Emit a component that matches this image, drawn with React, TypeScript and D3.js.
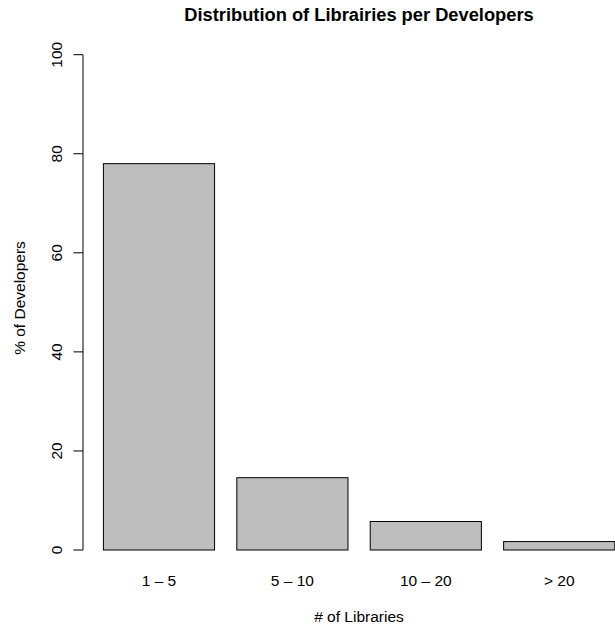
import React from "react";
import * as d3 from "d3";

const categories: string[] = ["1 – 5", "5 – 10", "10 – 20", "> 20"];
const values: number[] = [78, 14.6, 5.75, 1.7];
const yTicks: number[] = [0, 20, 40, 60, 80, 100];

const W = 615;
const H = 626;
const FONT = "'Liberation Sans', Arial, Helvetica, sans-serif";

export default function App() {
  const y = d3.scaleLinear().domain([0, 100]).range([550, 54.7]);
  const x = d3
    .scaleBand<string>()
    .domain(categories)
    .range([103.4, 614.8])
    .paddingInner(0.2 / 1.2)
    .paddingOuter(0);
  const axisX = 83;
  const plotCenter = 359;
  const fs = 15.5;

  return (
    <svg
      width={W}
      height={H}
      style={{ position: "absolute", left: 0, top: 0, background: "#fff" }}
      fontFamily={FONT}
    >
      <rect x={0} y={0} width={W} height={H} fill="#fff" />
      <text
        x={plotCenter}
        y={21}
        textAnchor="middle"
        fontWeight="bold"
        fontSize={18.3}
        fill="#000"
      >
        Distribution of Librairies per Developers
      </text>

      {categories.map((c, i) => (
        <rect
          key={c}
          x={x(c)!}
          y={y(values[i])}
          width={x.bandwidth()}
          height={y(0) - y(values[i])}
          fill="#BEBEBE"
          stroke="#000"
          strokeWidth={1}
        />
      ))}

      <line
        x1={axisX}
        x2={axisX}
        y1={y(0)}
        y2={y(100)}
        stroke="#000"
        strokeWidth={1}
      />
      {yTicks.map((t) => (
        <g key={t}>
          <line
            x1={axisX - 9.6}
            x2={axisX}
            y1={y(t)}
            y2={y(t)}
            stroke="#000"
            strokeWidth={1}
          />
          <text
            transform={`translate(${61.7},${y(t)}) rotate(-90)`}
            textAnchor="middle"
            fontSize={fs}
            fill="#000"
          >
            {t}
          </text>
        </g>
      ))}

      {categories.map((c) => (
        <text
          key={c}
          x={x(c)! + x.bandwidth() / 2}
          y={585.5}
          textAnchor="middle"
          fontSize={fs}
          fill="#000"
        >
          {c}
        </text>
      ))}

      <text
        x={plotCenter}
        y={621.5}
        textAnchor="middle"
        fontSize={fs}
        fill="#000"
      >
        # of Libraries
      </text>
      <text
        transform={`translate(${25},${298}) rotate(-90)`}
        textAnchor="middle"
        fontSize={fs}
        fill="#000"
      >
        % of Developers
      </text>
    </svg>
  );
}
